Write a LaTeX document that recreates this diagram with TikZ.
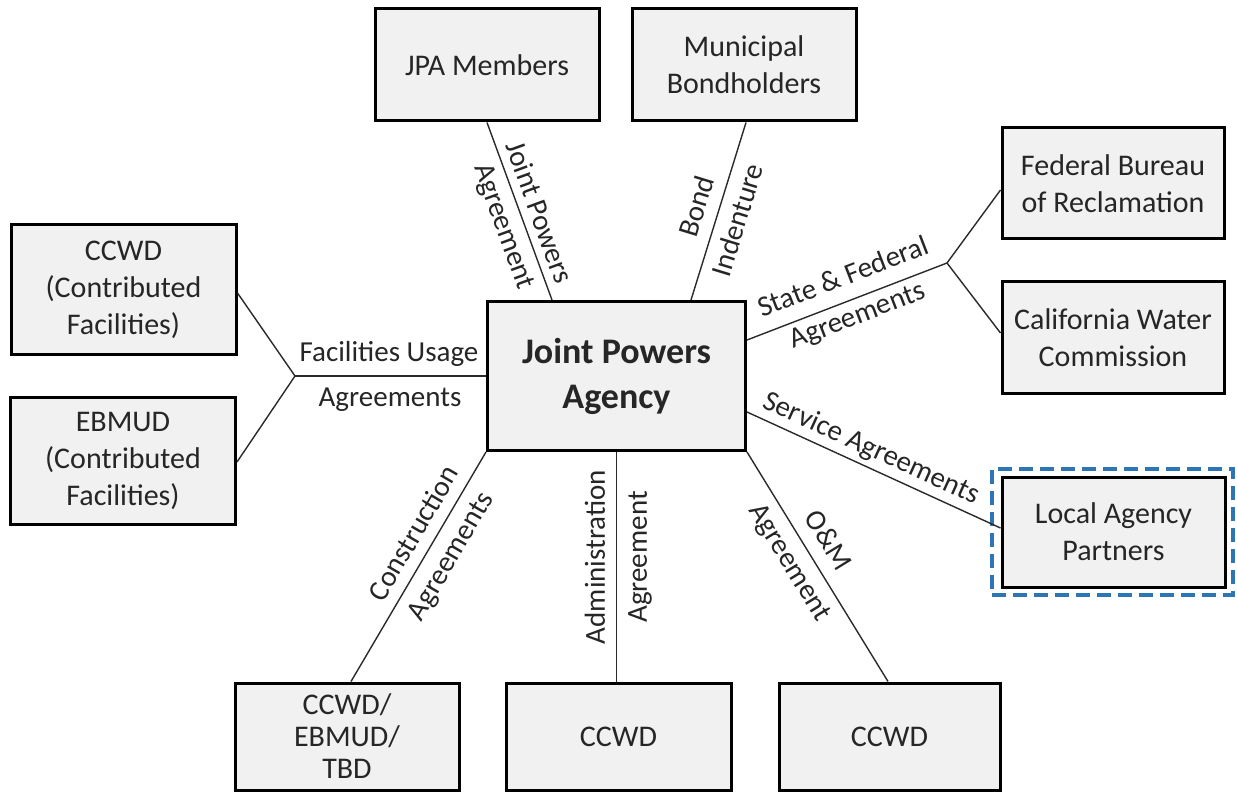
\documentclass[tikz,border=0pt]{standalone}
\usepackage{fontspec}
\setmainfont{Carlito}
\definecolor{boxgray}{HTML}{F1F1F1}
\definecolor{textgray}{HTML}{262626}
\definecolor{linegray}{HTML}{2A2A2A}
\definecolor{dashblue}{HTML}{2E75B6}
\newcommand\myboxfont{\fontsize{30}{37}\selectfont}
\newcommand\mylblfont{\fontsize{29}{36}\selectfont}
\newcommand\myjpafont{\fontsize{36}{45}\selectfont\bfseries}
\begin{document}
\begin{tikzpicture}[x=1pt,y=-1pt,
  box/.style={draw=black, line width=3pt, fill=boxgray, align=center,
    font=\myboxfont, text=textgray, inner sep=0pt},
  conn/.style={line width=1.4pt, draw=linegray},
  lbl/.style={font=\mylblfont, text=textgray, inner sep=0pt}]
\useasboundingbox[fill=white] (0,0) rectangle (1237,794);

% boxes
\node[box, minimum width=224pt, minimum height=112pt] (jpam) at (487,65) {JPA Members};
\node[box, minimum width=224pt, minimum height=112pt] (muni) at (744,65) {Municipal\\Bondholders};
\node[box, minimum width=258pt, minimum height=149pt, font=\myjpafont] (jpa) at (616.5,376) {Joint Powers\\Agency};
\node[box, minimum width=225pt, minimum height=129pt] (ccwdc) at (123.5,289.5) {CCWD\\(Contributed\\Facilities)};
\node[box, minimum width=225pt, minimum height=127pt] (ebmudc) at (123,461) {EBMUD\\(Contributed\\Facilities)};
\node[box, minimum width=222pt, minimum height=111pt] (fed) at (1113,183.5) {Federal Bureau\\of Reclamation};
\node[box, minimum width=222pt, minimum height=111pt] (cal) at (1113,337.5) {California Water\\Commission};
\node[box, minimum width=223pt, minimum height=110pt] (local) at (1113.5,532) {Local Agency\\Partners};
\node[draw=dashblue, line width=4pt, dash pattern=on 14pt off 7pt,
      minimum width=241pt, minimum height=126pt, inner sep=0pt] (hl) at (1112.5,532) {};
\node[box, minimum width=224pt, minimum height=107pt, font=\fontsize{30}{32}\selectfont] (b1) at (347,736.5) {CCWD/\\EBMUD/\\TBD};
\node[box, minimum width=225pt, minimum height=107pt] (b2) at (618.5,736.5) {CCWD};
\node[box, minimum width=221pt, minimum height=107pt] (b3) at (889.5,736.5) {CCWD};

% branch points
\coordinate (brR) at (947,263);
\coordinate (brL) at (295,376);

% connectors
\draw[conn] (jpam.south) -- ([xshift=66pt]jpa.north west);
\draw[conn] ([xshift=2pt]muni.south) -- ([xshift=205pt]jpa.north west);
\draw[conn] ([yshift=36pt]jpa.east) -- (brR);
\draw[conn] (brR) -- ([yshift=-6.5pt]fed.west);
\draw[conn] (brR) -- ([yshift=4.5pt]cal.west);
\draw[conn] ([yshift=-36pt]jpa.east) -- ([yshift=4pt]local.west);
\draw[conn] (jpa.west) -- (brL);
\draw[conn] (brL) -- ([yshift=-3.5pt]ccwdc.east);
\draw[conn] (brL) -- ([yshift=-1pt]ebmudc.east);
\draw[conn] (jpa.south west) -- ([xshift=4pt]b1.north);
\draw[conn] (jpa.south) -- (jpa.south |- b2.north);
\draw[conn] (jpa.south east) -- ([xshift=-1.5pt]b3.north);

% labels
\node[lbl, rotate=-70] (l1) at (540,212) {Joint Powers};
\node[lbl, rotate=-70] (l2) at (503,227) {Agreement};
\node[lbl, rotate=73] (l3) at (696,206) {Bond};
\node[lbl, rotate=73] (l4) at (737,220) {Indenture};
\node[lbl, rotate=21] (l5) at (843,276) {State \& Federal};
\node[lbl, rotate=21] (l6) at (858,317) {Agreements};
\node[lbl, rotate=-24.5] (l7) at (871,449) {Service Agreements};
\node[lbl] (l8) at (389,354) {Facilities Usage};
\node[lbl] (l9) at (390,400) {Agreements};
\node[lbl, rotate=59.7] (l10) at (413,533) {Construction};
\node[lbl, rotate=59.7] (l11) at (452,557) {Agreements};
\node[lbl, rotate=90] (l12) at (595,557) {Administration};
\node[lbl, rotate=90] (l13) at (640,557) {Agreement};
\node[lbl, rotate=-58.5] (l14) at (829,540) {O\&M};
\node[lbl, rotate=-58.5] (l15) at (789,563) {Agreement};
\end{tikzpicture}
\end{document}
